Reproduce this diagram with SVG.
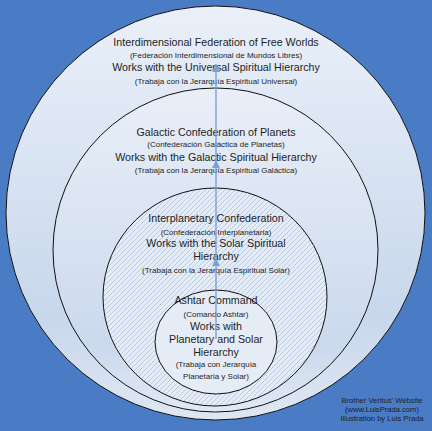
<svg xmlns="http://www.w3.org/2000/svg" width="432" height="431" viewBox="0 0 432 431">
<style>
.ring{stroke:#111;stroke-width:1}
.t{font-family:"Liberation Sans",Arial,sans-serif;fill:#1e1e1e;text-anchor:middle}
.big{font-size:10.7px}
.sm{font-size:8px}
.cr{font-family:"Liberation Sans",Arial,sans-serif;fill:#1a1f2e;text-anchor:middle;font-size:7.6px}
.conn{stroke:#7b9fd8;stroke-width:1.4;fill:none}
</style>
<defs>
<linearGradient id="g1" x1="0" y1="0" x2="0" y2="1">
<stop offset="0" stop-color="#eaf0f9"/>
<stop offset="0.75" stop-color="#c8d7ec"/>
<stop offset="1" stop-color="#dfe7f3"/>
</linearGradient>
<linearGradient id="g2" x1="0" y1="0" x2="0" y2="1">
<stop offset="0" stop-color="#e9eff8"/>
<stop offset="0.8" stop-color="#cbd9ed"/>
<stop offset="1" stop-color="#e2e9f5"/>
</linearGradient>
<pattern id="hatch" patternUnits="userSpaceOnUse" width="5" height="5">
<rect width="5" height="5" fill="#e6ecf6"/>
<path d="M0,5 L5,0 M-1,1 L1,-1 M4,6 L6,4" stroke="#b2c6e6" stroke-width="0.9"/>
</pattern>
<marker id="arr" viewBox="0 0 10 10" refX="10" refY="5" markerWidth="6" markerHeight="6" orient="auto">
<path d="M0,0 L10,5 L0,10 z" fill="#7b9fd8"/>
</marker>
</defs>
<rect width="432" height="431" fill="#4a7bc5"/>
<g id="node-interdimensional">
<ellipse class="ring" cx="215.5" cy="213" rx="209.5" ry="207" fill="url(#g1)"/>
<text class="t big" x="216" y="46">Interdimensional Federation of Free Worlds</text>
<text class="t sm" x="216" y="57.5">(Federación Interdimensional de Mundos Libres)</text>
<text class="t big" x="216" y="71">Works with the Universal Spiritual Hierarchy</text>
<text class="t sm" x="216" y="84">(Trabaja con la Jerarquía Espiritual Universal)</text>
</g>
<g id="node-galactic">
<ellipse class="ring" cx="215.5" cy="250" rx="162.5" ry="162" fill="url(#g2)"/>
<text class="t big" x="216" y="136">Galactic Confederation of Planets</text>
<text class="t sm" x="216" y="147">(Confederación Galáctica de Planetas)</text>
<text class="t big" x="216" y="161">Works with the Galactic Spiritual Hierarchy</text>
<text class="t sm" x="216" y="173">(Trabaja con la Jerarquía Espiritual Galáctica)</text>
</g>
<g id="node-interplanetary">
<ellipse class="ring" cx="215" cy="297" rx="112" ry="109" fill="url(#hatch)"/>
<text class="t big" x="216" y="222">Interplanetary Confederation</text>
<text class="t sm" x="216" y="235">(Confederación Interplanetaria)</text>
<text class="t big" x="216" y="247">Works with the Solar Spiritual</text>
<text class="t big" x="216" y="260">Hierarchy</text>
<text class="t sm" x="216" y="273">(Trabaja con la Jerarquía Espiritual Solar)</text>
</g>
<g id="node-ashtar">
<ellipse class="ring" cx="216" cy="342" rx="61" ry="52" fill="#e6ecf6"/>
<text class="t big" x="216" y="304">Ashtar Command</text>
<text class="t sm" x="216" y="317">(Comando Ashtar)</text>
<text class="t big" x="216" y="330">Works with</text>
<text class="t big" x="216" y="343">Planetary and Solar</text>
<text class="t big" x="216" y="356">Hierarchy</text>
<text class="t sm" x="216" y="367">(Trabaja con Jerarquía</text>
<text class="t sm" x="216" y="379">Planetaria y Solar)</text>
</g>
<g id="connectors">
<line class="conn" x1="216" y1="339" x2="216" y2="258" marker-end="url(#arr)"/>
<line class="conn" x1="216" y1="266" x2="216" y2="160" marker-end="url(#arr)"/>
<line class="conn" x1="216" y1="168" x2="216" y2="64" marker-end="url(#arr)"/>
</g>
<g id="credits">
<text class="cr" x="382" y="403">Brother Veritus' Website</text>
<text class="cr" x="382" y="412">(www.LuisPrada.com)</text>
<text class="cr" x="382" y="421">Illustration by Luis Prada</text>
</g>
</svg>
